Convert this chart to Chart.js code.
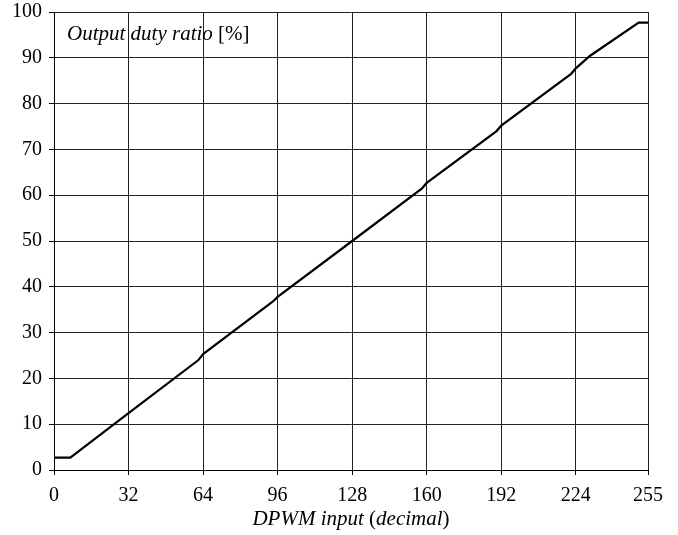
<!DOCTYPE html>
<html>
<head>
<meta charset="utf-8">
<script src="https://cdn.jsdelivr.net/npm/chart.js@4"></script>
<style>
  html, body { margin: 0; padding: 0; background: #fff; }
  #wrap { width: 678px; height: 535px; }
</style>
</head>
<body>
<div id="wrap"><canvas id="dutyChart"></canvas></div>
<script>
// DPWM input (decimal) vs. output duty ratio [%]
const dpwmInput = [0, 7, 32, 62, 64, 94, 96, 128, 158, 160, 190, 192, 222, 224, 228, 230, 251, 255];
const dutyRatio = [2.7, 2.7, 12.4, 24.0, 25.3, 36.8, 37.8, 50.0, 61.5, 62.7, 74.0, 75.2, 86.5, 87.7, 89.5, 90.4, 97.7, 97.7];
const xTicks = [0, 32, 64, 96, 128, 160, 192, 224, 255];
const yTicks = [0, 10, 20, 30, 40, 50, 60, 70, 80, 90, 100];

const serif = '"Liberation Serif", "Times New Roman", serif';

// draws runs of text where some parts are italic
function drawRuns(ctx, runs, x, y, align) {
  let total = 0;
  runs.forEach(r => {
    ctx.font = (r.italic ? 'italic ' : '') + '21px ' + serif;
    r.w = ctx.measureText(r.text).width;
    total += r.w;
  });
  let cx = align === 'center' ? x - total / 2 : x;
  runs.forEach(r => {
    ctx.font = (r.italic ? 'italic ' : '') + '21px ' + serif;
    ctx.fillText(r.text, cx, y);
    cx += r.w;
  });
}

const labelsPlugin = {
  id: 'labels',
  afterDraw(chart) {
    const ctx = chart.ctx;
    const area = chart.chartArea;
    ctx.save();
    ctx.fillStyle = '#000';
    ctx.textBaseline = 'middle';
    ctx.textAlign = 'left';
    drawRuns(ctx, [
      { text: 'Output duty ratio ', italic: true },
      { text: '[%]', italic: false }
    ], area.left + 13, area.top + 22, 'left');
    drawRuns(ctx, [
      { text: 'DPWM input ', italic: true },
      { text: '(', italic: false },
      { text: 'decimal', italic: true },
      { text: ')', italic: false }
    ], (area.left + area.right) / 2, 519, 'center');
    ctx.restore();
  }
};

new Chart(document.getElementById('dutyChart'), {
  type: 'scatter',
  data: {
    datasets: [{
      data: dpwmInput.map((x, i) => ({ x: x, y: dutyRatio[i] })),
      showLine: true,
      borderColor: '#000',
      borderWidth: 2.2,
      pointRadius: 0,
      tension: 0
    }]
  },
  options: {
    responsive: true,
    maintainAspectRatio: false,
    animation: false,
    layout: { padding: { top: 12, right: 30, left: 0, bottom: 0 } },
    plugins: { legend: { display: false }, tooltip: { enabled: false } },
    scales: {
      x: {
        type: 'linear',
        min: 0,
        max: 255,
        afterBuildTicks: s => { s.ticks = xTicks.map(v => ({ value: v })); },
        afterFit: s => { s.height = 65; },
        grid: { color: '#222', lineWidth: 1, tickLength: 5, tickColor: '#000' },
        border: { color: '#000', width: 1 },
        ticks: { color: '#000', font: { family: serif, size: 20, lineHeight: 1 }, padding: 11, maxRotation: 0, autoSkip: false }
      },
      y: {
        min: 0,
        max: 100,
        afterBuildTicks: s => { s.ticks = yTicks.map(v => ({ value: v })); },
        afterFit: s => { s.width = 54; },
        grid: { color: '#222', lineWidth: 1, tickLength: 5, tickColor: '#000' },
        border: { color: '#000', width: 1 },
        ticks: { color: '#000', font: { family: serif, size: 20, lineHeight: 0.5 }, padding: 7 }
      }
    }
  },
  plugins: [labelsPlugin]
});
</script>
</body>
</html>
